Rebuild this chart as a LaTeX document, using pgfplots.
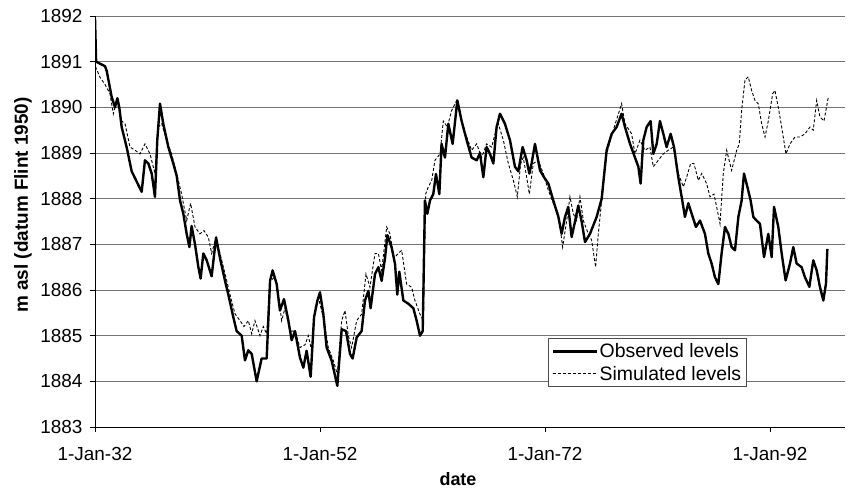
\documentclass[border=0pt]{standalone}
\usepackage{pgfplots}
\pgfplotsset{compat=1.18}
\usepackage{fontspec}
\setmainfont{Liberation Sans}
\begin{document}
\begin{tikzpicture}
\useasboundingbox (0,0) rectangle (848bp,492bp);
\begin{axis}[
  at={(95bp,65bp)}, anchor=south west,
  scale only axis, width=750bp, height=411bp,
  xmin=1932, xmax=1998.67, ymin=1883, ymax=1892,
  axis x line=bottom, axis y line=left,
  axis line style={-, black, line width=0.8bp},
  xtick={1932,1952,1972,1992},
  xticklabels={1-Jan-32,1-Jan-52,1-Jan-72,1-Jan-92},
  ytick={1883,1884,1885,1886,1887,1888,1889,1890,1891,1892},
  /pgf/number format/1000 sep={},
  /pgf/number format/assume math mode=true,
  tick align=outside, major tick length=5bp,
  tick style={black, line width=0.8bp},
  ymajorgrids, grid style={black!55, line width=0.8bp},
  ticklabel style={font=\fontsize{19}{21}\selectfont},
  xticklabel style={yshift=-12bp},
  yticklabel style={xshift=-4bp},
  xlabel={date}, ylabel={m asl (datum Flint 1950)},
  xlabel style={font=\bfseries\fontsize{18}{20}\selectfont, at={(axis description cs:0.484,-0.126)}, anchor=center},
  ylabel style={font=\bfseries\fontsize{19}{21}\selectfont, at={(axis description cs:-0.096,0.54)}, anchor=center},
  legend style={at={(axis description cs:0.604,0.0973)}, anchor=south west,
    draw=black!70, line width=0.6bp, fill=white,
    font=\fontsize{19.5}{22}\selectfont, inner xsep=3bp, inner ysep=3bp,
    row sep=3bp, cells={anchor=west}},
  legend image code/.code={\draw[#1] (0bp,0bp) -- (44bp,0bp);},
]
\addplot[black, line width=2.4bp, line join=round] coordinates {
(1932.00,1891.95) (1932.10,1891.0) (1932.89,1890.9) (1933.04,1890.8) (1933.48,1890.23)
(1933.78,1890.0) (1933.99,1890.2) (1934.16,1890.0) (1934.37,1889.57) (1934.81,1889.13)
(1935.26,1888.6) (1935.85,1888.3) (1936.15,1888.15) (1936.44,1888.84) (1936.74,1888.77)
(1937.04,1888.55) (1937.33,1888.04) (1937.54,1889.3) (1937.78,1890.08) (1938.07,1889.64)
(1938.52,1889.13) (1938.96,1888.77) (1939.26,1888.5) (1939.56,1887.96) (1939.85,1887.67)
(1940.15,1887.23) (1940.39,1886.94) (1940.59,1887.4) (1940.89,1887.0) (1941.19,1886.5)
(1941.39,1886.25) (1941.63,1886.8) (1941.93,1886.65) (1942.37,1886.3) (1942.76,1887.15)
(1943.11,1886.7) (1943.56,1886.2) (1943.85,1885.9) (1944.30,1885.4) (1944.59,1885.1)
(1945.04,1885.0) (1945.33,1884.46) (1945.63,1884.68) (1945.93,1884.6) (1946.37,1884.0)
(1946.81,1884.5) (1947.26,1884.5) (1947.56,1886.2) (1947.79,1886.43) (1948.15,1886.13)
(1948.44,1885.55) (1948.80,1885.8) (1949.19,1885.33) (1949.48,1884.9) (1949.78,1885.1)
(1950.22,1884.52) (1950.52,1884.3) (1950.81,1884.67) (1951.17,1884.1) (1951.47,1885.4)
(1951.76,1885.76) (1952.00,1885.95) (1952.30,1885.47) (1952.59,1884.74) (1953.04,1884.45)
(1953.54,1883.9) (1953.93,1885.14) (1954.31,1885.1) (1954.67,1884.6) (1954.90,1884.5)
(1955.26,1884.96) (1955.70,1885.1) (1956.00,1885.77) (1956.30,1885.98) (1956.50,1885.6)
(1956.89,1886.35) (1957.19,1886.5) (1957.48,1886.2) (1957.78,1886.7) (1957.99,1887.2)
(1958.37,1886.93) (1958.67,1886.57) (1958.87,1885.9) (1959.05,1886.4) (1959.41,1885.77)
(1959.85,1885.7) (1960.30,1885.6) (1960.59,1885.33) (1960.89,1885.0) (1961.13,1885.1)
(1961.33,1887.96) (1961.54,1887.67) (1961.78,1887.96) (1962.07,1888.1) (1962.31,1888.54)
(1962.61,1888.1) (1962.81,1889.2) (1963.11,1888.9) (1963.41,1889.64) (1963.79,1889.2)
(1964.21,1890.15) (1964.59,1889.7) (1965.04,1889.28) (1965.48,1888.9) (1965.93,1888.84)
(1966.22,1889.0) (1966.52,1888.47) (1966.81,1889.13) (1967.11,1888.98) (1967.41,1888.77)
(1967.70,1889.57) (1968.00,1889.86) (1968.44,1889.64) (1968.89,1889.28) (1969.33,1888.7)
(1969.63,1888.6) (1970.01,1889.13) (1970.37,1888.84) (1970.61,1888.55) (1970.81,1888.77)
(1971.11,1889.2) (1971.56,1888.62) (1971.91,1888.47) (1972.30,1888.33) (1972.74,1887.96)
(1973.19,1887.6) (1973.48,1887.23) (1973.78,1887.6) (1974.07,1887.82) (1974.37,1887.16)
(1974.67,1887.5) (1974.96,1887.85) (1975.26,1887.5) (1975.56,1887.05) (1976.00,1887.23)
(1976.59,1887.6) (1977.04,1888.0) (1977.48,1889.06) (1977.93,1889.42) (1978.37,1889.57)
(1978.81,1889.86) (1979.11,1889.57) (1979.56,1889.2) (1980.00,1888.9) (1980.30,1888.7)
(1980.50,1888.33) (1980.74,1889.28) (1981.04,1889.57) (1981.39,1889.7) (1981.63,1888.98)
(1981.93,1889.2) (1982.22,1889.7) (1982.52,1889.42) (1982.81,1889.13) (1983.17,1889.42)
(1983.47,1889.13) (1983.85,1888.47) (1984.15,1888.04) (1984.44,1887.6) (1984.74,1887.9)
(1985.04,1887.67) (1985.42,1887.38) (1985.78,1887.52) (1986.22,1887.23) (1986.52,1886.8)
(1986.81,1886.58) (1987.11,1886.28) (1987.41,1886.13) (1987.70,1886.8) (1988.00,1887.38)
(1988.30,1887.23) (1988.59,1886.94) (1988.89,1886.87) (1989.19,1887.6) (1989.48,1887.96)
(1989.69,1888.55) (1989.99,1888.26) (1990.28,1887.96) (1990.52,1887.6) (1990.81,1887.52)
(1991.11,1887.45) (1991.47,1886.72) (1991.85,1887.23) (1992.15,1886.72) (1992.36,1887.82)
(1992.74,1887.38) (1993.04,1886.8) (1993.39,1886.21) (1993.78,1886.58) (1994.07,1886.94)
(1994.37,1886.58) (1994.81,1886.5) (1995.11,1886.28) (1995.50,1886.07) (1995.85,1886.65)
(1996.15,1886.43) (1996.44,1886.07) (1996.74,1885.77) (1996.98,1886.14) (1997.10,1886.9)
};
\addlegendentry{Observed levels}
\addplot[black, line width=0.9bp, dash pattern=on 3bp off 2bp] coordinates {
(1932.00,1891.0) (1932.06,1890.88) (1932.44,1890.66) (1932.89,1890.5) (1933.33,1890.3)
(1933.63,1889.86) (1933.93,1890.15) (1934.37,1889.7) (1934.67,1889.64) (1935.11,1889.13)
(1935.56,1889.06) (1936.00,1888.98) (1936.44,1889.2) (1936.89,1888.98) (1937.33,1888.55)
(1937.63,1889.57) (1937.93,1889.64) (1938.37,1889.28) (1938.81,1888.98) (1939.26,1888.55)
(1939.70,1888.1) (1940.15,1887.52) (1940.50,1887.9) (1940.89,1887.38) (1941.33,1887.23)
(1941.69,1887.3) (1942.07,1887.16) (1942.37,1886.8) (1942.76,1887.15) (1943.11,1886.8)
(1943.56,1886.36) (1944.00,1885.9) (1944.44,1885.48) (1944.89,1885.33) (1945.24,1885.2)
(1945.63,1885.33) (1945.93,1885.04) (1946.22,1885.33) (1946.67,1885.0) (1946.96,1885.2)
(1947.26,1885.04) (1947.56,1886.2) (1948.00,1886.28) (1948.30,1885.9) (1948.59,1885.33)
(1948.89,1885.6) (1949.33,1885.1) (1949.78,1885.1) (1950.22,1884.74) (1950.67,1884.8)
(1950.96,1885.0) (1951.26,1884.67) (1951.56,1885.6) (1951.85,1885.84) (1952.30,1885.4)
(1952.74,1884.74) (1953.19,1884.45) (1953.54,1884.16) (1953.93,1885.33) (1954.22,1885.55)
(1954.52,1885.0) (1954.81,1884.74) (1955.26,1885.33) (1955.70,1885.47) (1956.09,1886.35)
(1956.44,1886.06) (1956.89,1886.8) (1957.19,1886.8) (1957.48,1886.43) (1957.93,1887.38)
(1958.22,1887.23) (1958.58,1886.7) (1958.96,1886.8) (1959.26,1886.87) (1959.70,1886.13)
(1960.15,1886.06) (1960.44,1885.77) (1960.89,1885.47) (1961.19,1885.33) (1961.39,1888.1)
(1961.63,1888.26) (1961.93,1888.4) (1962.22,1888.84) (1962.67,1888.98) (1962.96,1889.7)
(1963.32,1889.57) (1963.70,1889.93) (1964.15,1890.15) (1964.59,1889.7) (1965.04,1889.35)
(1965.48,1889.06) (1965.93,1889.2) (1966.37,1888.9) (1966.81,1889.2) (1967.26,1889.13)
(1967.56,1889.42) (1967.85,1889.64) (1968.30,1889.28) (1968.74,1888.77) (1969.19,1888.4)
(1969.54,1888.04) (1969.84,1888.77) (1970.07,1888.9) (1970.37,1888.47) (1970.61,1888.1)
(1970.96,1888.77) (1971.41,1888.84) (1971.85,1888.55) (1972.30,1888.18) (1972.74,1887.9)
(1973.19,1887.67) (1973.57,1886.94) (1973.93,1887.52) (1974.22,1888.04) (1974.52,1887.67)
(1974.81,1887.52) (1975.11,1888.04) (1975.41,1887.52) (1975.85,1887.23) (1976.15,1887.09)
(1976.50,1886.5) (1976.74,1887.23) (1977.04,1887.96) (1977.48,1888.98) (1978.07,1889.5)
(1978.81,1890.08) (1979.11,1889.64) (1979.70,1889.42) (1980.00,1888.98) (1980.44,1889.28)
(1980.89,1889.06) (1981.33,1889.13) (1981.63,1888.7) (1982.07,1888.84) (1982.52,1888.98)
(1982.96,1889.06) (1983.41,1889.13) (1983.85,1888.55) (1984.30,1888.26) (1984.59,1888.47)
(1984.95,1888.77) (1985.24,1888.77) (1985.63,1888.4) (1985.93,1888.55) (1986.37,1888.33)
(1986.67,1888.04) (1987.02,1888.1) (1987.26,1887.82) (1987.56,1887.45) (1987.85,1888.55)
(1988.15,1889.06) (1988.59,1888.62) (1989.04,1889.06) (1989.27,1889.2) (1989.48,1889.93)
(1989.78,1890.6) (1990.07,1890.67) (1990.37,1890.37) (1990.67,1890.15) (1990.96,1890.08)
(1991.26,1889.64) (1991.56,1889.35) (1991.85,1889.7) (1992.24,1890.3) (1992.44,1890.37)
(1992.74,1890.0) (1993.04,1889.57) (1993.42,1888.98) (1993.78,1889.2) (1994.22,1889.35)
(1994.67,1889.35) (1995.11,1889.42) (1995.56,1889.57) (1995.85,1889.5) (1996.15,1890.15)
(1996.44,1889.79) (1996.80,1889.7) (1997.19,1890.23)
};
\addlegendentry{Simulated levels}
\end{axis}
\end{tikzpicture}
\end{document}
